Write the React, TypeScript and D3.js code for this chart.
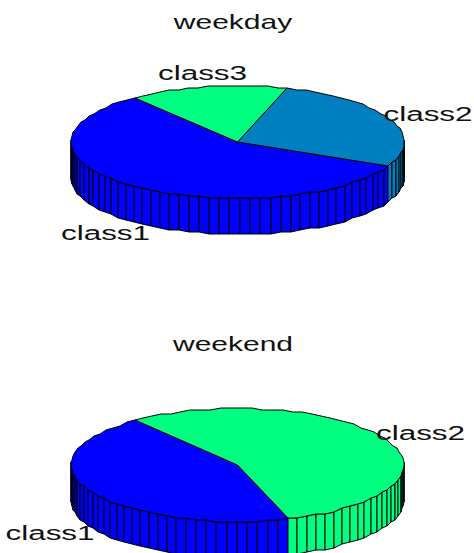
import React from "react";
import * as d3 from "d3";

// Shares of each class, in percent
const classNames = ["class1", "class2", "class3"];
const weekdayValues = [57.5, 27.1, 15.4];
const weekendValues = [44.3, 55.7];
const startDeg = 128; // first slice starts here, measured counter-clockwise from +x

const W = 474;
const H = 553;
const RX = 166.5;
const RY = 56.5;
const DEPTH = 36;
const FONT = "'Liberation Sans', Arial, sans-serif";
// Raster steps of the stepped outline
const SNAP_X = 1;
const SNAP_Y = 2;

type Label = { text: string; cx: number; y: number };
type PieSpec = { title: string; values: number[]; cx: number; cy: number; labels: Label[] };

const pies: PieSpec[] = [
  {
    title: "weekday",
    values: weekdayValues,
    cx: 237.5,
    cy: 142,
    labels: [
      { text: classNames[0], cx: 105.5, y: 239.5 },
      { text: classNames[1], cx: 428, y: 120.5 },
      { text: classNames[2], cx: 202.5, y: 79.5 },
    ],
  },
  {
    title: "weekend",
    values: weekendValues,
    cx: 237.5,
    cy: 465,
    labels: [
      { text: classNames[0], cx: 50, y: 539.5 },
      { text: classNames[1], cx: 420.5, y: 439.5 },
    ],
  },
];
const titleBaseline = [28.5, 350.5];

// Each slice is faceted the way a 3-D pie is: one facet per started percent
function sliceFacets(values: number[]) {
  const total = d3.sum(values);
  const arcs = d3
    .pie<number>()
    .sort(null)
    .startAngle((startDeg * Math.PI) / 180)
    .endAngle((startDeg * Math.PI) / 180 + 2 * Math.PI)(values);
  return arcs.map((a) => {
    const n = Math.ceil((100 * a.value) / total);
    const step = (a.endAngle - a.startAngle) / n;
    return { angles: d3.range(n + 1).map((i) => a.startAngle + i * step), index: a.index };
  });
}

function Pie({ spec }: { spec: PieSpec }) {
  const { values, cx, cy } = spec;
  const xs = d3.scaleLinear().domain([-1, 1]).range([cx - RX, cx + RX]);
  const ys = d3.scaleLinear().domain([-1, 1]).range([cy + RY, cy - RY]);
  const px = (t: number) => Math.round(xs(Math.cos(t)) / SNAP_X) * SNAP_X;
  const py = (t: number) => Math.round(ys(Math.sin(t)) / SNAP_Y) * SNAP_Y;
  const color = d3
    .scaleLinear<string>()
    .domain([0, Math.max(1, values.length - 1)])
    .range(["#0000ff", "#00ff80"]);
  const line = d3.line<number>().x(px).y(py);
  const slices = sliceFacets(values);

  return (
    <g>
      {slices.map((s) =>
        s.angles.slice(1).map((t, i) => {
          const t0 = s.angles[i];
          if (Math.sin(t0) > 0.02 && Math.sin(t) > 0.02) return null;
          const pts = [
            [px(t0), py(t0)],
            [px(t), py(t)],
            [px(t), py(t) + DEPTH],
            [px(t0), py(t0) + DEPTH],
          ];
          return (
            <polygon
              key={`w${s.index}-${i}`}
              points={pts.map((p) => p.join(",")).join(" ")}
              fill={color(s.index)}
              stroke="#000"
              strokeWidth={1}
            />
          );
        })
      )}
      {slices.map((s) => (
        <path
          key={`t${s.index}`}
          d={`M${xs(0)},${ys(0)}L${line(s.angles)!.slice(1)}Z`}
          fill={color(s.index)}
          stroke="#000"
          strokeWidth={1}
          strokeLinejoin="round"
        />
      ))}
    </g>
  );
}

function StretchedText({ text, cx, y, size = 21 }: Label & { size?: number }) {
  return (
    <text
      transform={`translate(${cx},${y}) scale(1.5,1)`}
      textAnchor="middle"
      fontFamily={FONT}
      fontSize={size}
      fill="#111"
    >
      {text}
    </text>
  );
}

export default function App() {
  return (
    <svg
      width={W}
      height={H}
      viewBox={`0 0 ${W} ${H}`}
      style={{ position: "absolute", left: 0, top: 0, display: "block", background: "#fff" }}
    >
      {pies.map((p, i) => (
        <g key={p.title}>
          <Pie spec={p} />
          <StretchedText text={p.title} cx={233} y={titleBaseline[i]} size={20} />
          {p.labels.map((l) => (
            <StretchedText key={l.text} {...l} />
          ))}
        </g>
      ))}
    </svg>
  );
}
